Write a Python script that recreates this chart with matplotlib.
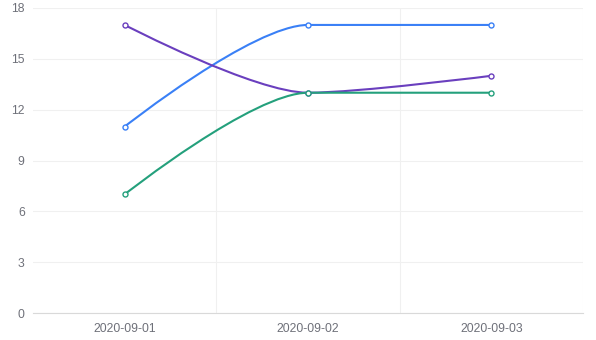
import numpy as np
import matplotlib
matplotlib.use("Agg")
import matplotlib.pyplot as plt
from matplotlib.path import Path
from matplotlib.patches import PathPatch

plt.rcParams["font.family"] = ["Liberation Sans", "DejaVu Sans"]

dates = ["2020-09-01", "2020-09-02", "2020-09-03"]
blue_vals = [11, 17, 17]
purple_vals = [17, 13, 14]
green_vals = [7, 13, 13]
y_ticks = [0, 3, 6, 9, 12, 15, 18]

series = [
    (blue_vals, "#3A80F6"),
    (purple_vals, "#6A3FBE"),
    (green_vals, "#24A07C"),
]


def smooth_path(pts, smooth=0.28):
    """echarts-style bezier smoothing, pts in display coords"""
    verts = [tuple(pts[0])]
    codes = [Path.MOVETO]
    cp0 = pts[0].copy()
    n = len(pts)
    for i in range(1, n):
        x, y = pts[i]
        px, py = pts[i - 1]
        if i + 1 < n:
            nx, ny = pts[i + 1]
            vx, vy = nx - px, ny - py
            len_prev = np.hypot(x - px, y - py)
            len_next = np.hypot(nx - x, ny - y)
            ratio = len_next / (len_next + len_prev)
            c1x = x + vx * smooth * ratio
            c1y = y + vy * smooth * ratio
            c1x = min(max(c1x, min(nx, x)), max(nx, x))
            c1y = min(max(c1y, min(ny, y)), max(ny, y))
            vx, vy = c1x - x, c1y - y
            c0x = x - vx * len_prev / len_next
            c0y = y - vy * len_prev / len_next
            c0x = min(max(c0x, min(px, x)), max(px, x))
            c0y = min(max(c0y, min(py, y)), max(py, y))
            vx, vy = x - c0x, y - c0y
            c1x = x + vx * len_next / len_prev
            c1y = y + vy * len_next / len_prev
        else:
            c0x, c0y = x, y
            c1x, c1y = x, y
        verts += [tuple(cp0), (c0x, c0y), (x, y)]
        codes += [Path.CURVE4] * 3
        cp0 = np.array([c1x, c1y])
    return verts, codes


fig = plt.figure(figsize=(5.96, 3.40), dpi=100)
ax = fig.add_axes([33 / 596, 27 / 340, 550 / 596, 305 / 340])
ax.set_xlim(-0.5, 2.5)
ax.set_ylim(0, 18)

ax.set_yticks(y_ticks)
ax.set_xticks(range(len(dates)))
ax.set_xticklabels(dates)
ax.set_xticks([0.5, 1.5, 2.5], minor=True)
ax.grid(axis="y", color="#F0F0F0", linewidth=0.8)
ax.grid(axis="x", which="minor", color="#F0F0F0", linewidth=0.8)
ax.tick_params(axis="both", which="both", length=0, colors="#6E7079", labelsize=8.7)
ax.tick_params(axis="x", pad=7)
ax.tick_params(axis="y", pad=6)
for s in ["top", "right", "left"]:
    ax.spines[s].set_visible(False)
ax.spines["bottom"].set_color("#D9D9D9")
ax.set_axisbelow(True)

x = np.arange(len(dates))
inv = ax.transData.inverted()
for vals, color in series:
    disp = ax.transData.transform(np.column_stack([x, vals]))
    verts, codes = smooth_path(disp)
    verts = inv.transform(np.array(verts))
    ax.add_patch(PathPatch(Path(verts, codes), facecolor="none",
                           edgecolor=color, linewidth=1.5, zorder=3))
    ax.plot(x, vals, linestyle="none", marker="o", markersize=3.6,
            markerfacecolor="white", markeredgecolor=color,
            markeredgewidth=1, zorder=4)

fig.savefig("out.png", dpi=100)
